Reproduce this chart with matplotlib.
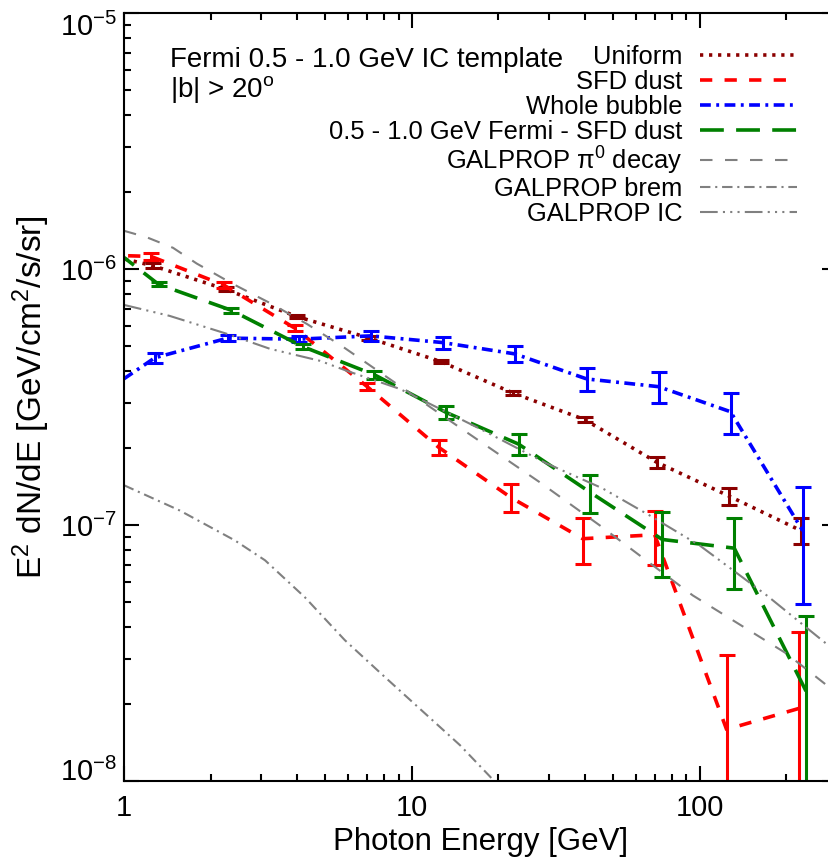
import matplotlib

matplotlib.use("Agg")
import matplotlib.pyplot as plt
from matplotlib.ticker import NullFormatter

plt.rcParams["font.family"] = ["Liberation Sans", "DejaVu Sans"]
plt.rcParams["mathtext.fontset"] = "custom"
plt.rcParams["mathtext.rm"] = "Liberation Sans"
plt.rcParams["mathtext.it"] = "Liberation Sans:italic"
plt.rcParams["mathtext.bf"] = "Liberation Sans:bold"

# energy bin centres [GeV]; the first bin sits left of the plotted range
energy = [0.72, 1.28, 2.29, 4.05, 7.2, 12.8, 22.8, 40.5, 72.0, 128.0, 228.0]

uniform = [1.20e-6, 1.03e-6, 8.33e-7, 6.52e-7, 5.38e-7, 4.35e-7, 3.28e-7, 2.58e-7, 1.76e-7, 1.30e-7, 9.52e-8]
uniform_err = [0, 2.5e-8, 1.5e-8, 1.0e-8, 1.0e-8, 0.7e-8, 0.6e-8, 0.6e-8, 0.9e-8, 1.0e-8, 1.1e-8]

sfd = [1.14e-6, 1.12e-6, 8.66e-7, 5.87e-7, 3.48e-7, 2.01e-7, 1.28e-7, 8.84e-8, 9.16e-8, 1.59e-8, 1.92e-8]
sfd_err = [0, 3.5e-8, 2.6e-8, 1.6e-8, 1.2e-8, 1.4e-8, 1.6e-8, 1.8e-8, 2.2e-8, 1.51e-8, 1.90e-8]

bubble = [2.90e-7, 4.50e-7, 5.37e-7, 5.32e-7, 5.48e-7, 5.16e-7, 4.66e-7, 3.72e-7, 3.47e-7, 2.77e-7, 0.95e-7]
bubble_err = [0, 2.1e-8, 1.6e-8, 1.4e-8, 2.5e-8, 2.8e-8, 3.4e-8, 3.9e-8, 4.8e-8, 5.1e-8, 4.6e-8]

fermi_sfd = [1.44e-6, 8.71e-7, 6.90e-7, 4.98e-7, 3.86e-7, 2.75e-7, 2.07e-7, 1.34e-7, 8.78e-8, 8.12e-8, 2.23e-8]
fermi_sfd_err = [0, 1.5e-8, 1.5e-8, 1.3e-8, 1.4e-8, 1.6e-8, 1.9e-8, 2.3e-8, 2.5e-8, 2.5e-8, 2.2e-8]

# GALPROP model curves
pi0_energy = [1.0, 1.20, 1.48, 1.79, 2.39, 3.21, 4.32, 5.76, 7.03, 14.7, 27.8, 45.0, 94.6, 200.0, 300.0]
pi0 = [1.41e-6, 1.33e-6, 1.21e-6, 1.05e-6, 8.74e-7, 7.37e-7, 6.10e-7, 4.97e-7, 4.26e-7,
       2.40e-7, 1.47e-7, 9.96e-8, 5.31e-8, 3.15e-8, 2.2e-8]

ic_energy = [1.0, 1.44, 2.28, 3.21, 4.79, 5.95, 9.09, 17.2, 29.4, 46.0, 67.0, 100.0, 171.0, 300.0]
ic = [7.24e-7, 6.56e-7, 5.58e-7, 4.88e-7, 4.38e-7, 4.00e-7, 3.40e-7, 2.38e-7, 1.74e-7,
      1.39e-7, 1.09e-7, 8.32e-8, 5.31e-8, 3.18e-8]

brem_energy = [1.0, 1.56, 2.43, 3.09, 4.25, 5.85, 7.93, 10.8, 14.7, 18.7, 23.7]
brem = [1.43e-7, 1.14e-7, 8.70e-8, 7.28e-8, 5.22e-8, 3.55e-8, 2.59e-8, 1.89e-8, 1.38e-8, 1.04e-8, 7.7e-9]

fig = plt.figure(figsize=(8.29, 8.64), dpi=100)
ax = fig.add_axes([124 / 829, 83 / 864, 713 / 829, 768 / 864])
ax.set_xscale("log")
ax.set_yscale("log")

series = [
    ("Uniform", uniform, uniform_err, "#8b0000", (0, (0.9, 1.6)), 0.984),
    ("SFD dust", sfd, sfd_err, "#ff0000", (0, (3.4, 3.4)), 0.969),
    ("Whole bubble", bubble, bubble_err, "#0000ff", (0, (3.0, 1.5, 0.8, 1.5)), 1.0),
    ("0.5 - 1.0 GeV Fermi - SFD dust", fermi_sfd, fermi_sfd_err, "#008000", (0, (6.6, 3.4)), 1.03),
]
handles = []
for label, vals, errs, color, ls, shift in series:
    xs = [e * shift for e in energy]
    (line,) = ax.plot(xs, vals, color=color, linestyle=ls, lw=2.6, label=label)
    ax.errorbar(xs[1:], vals[1:], yerr=errs[1:], fmt="none", ecolor=color,
                elinewidth=2.2, capsize=5.5, capthick=2.2)
    handles.append(line)

gray = "#808080"
(h_pi0,) = ax.plot(pi0_energy, pi0, color=gray, lw=1.5, linestyle=(0, (6, 6)),
                   label=r"GALPROP $\mathregular{\pi^0}$ decay")
(h_brem,) = ax.plot(brem_energy, brem, color=gray, lw=1.5, linestyle=(0, (5, 2.3, 1, 2.3)),
                    label="GALPROP brem")
(h_ic,) = ax.plot(ic_energy, ic, color=gray, lw=1.5,
                  linestyle=(0, (8.5, 2.5, 1, 2.5, 1, 2.5, 1, 2.5)), label="GALPROP IC")
handles += [h_pi0, h_brem, h_ic]

ax.set_xlim(1, 300)
ax.set_ylim(1e-8, 1e-5)

ax.set_xticks([1, 10, 100], labels=["1", "10", "100"])
ax.set_yticks([1e-8, 1e-7, 1e-6, 1e-5],
              labels=[r"$\mathregular{10^{-8}}$", r"$\mathregular{10^{-7}}$",
                      r"$\mathregular{10^{-6}}$", r"$\mathregular{10^{-5}}$"])
ax.xaxis.set_minor_formatter(NullFormatter())
ax.yaxis.set_minor_formatter(NullFormatter())

ax.tick_params(which="both", direction="in", top=True, right=True, width=1.5)
ax.tick_params(which="major", length=10.5)
ax.tick_params(which="minor", length=5.2)
ax.tick_params(axis="x", which="major", pad=9, labelsize=21)
ax.tick_params(axis="y", which="major", pad=5, labelsize=21)
for s in ax.spines.values():
    s.set_linewidth(1.5)

yt = ax.yaxis.get_major_ticks()
yt[0].label1.set_va("baseline")
yt[-1].label1.set_va("top")

ax.set_xlabel("Photon Energy [GeV]", fontsize=22.5, labelpad=4)
ax.set_ylabel(r"E$^\mathregular{2}$ dN/dE [GeV/cm$^\mathregular{2}$/s/sr]", fontsize=24, labelpad=6)

ax.text(0.065, 0.9297, "Fermi 0.5 - 1.0 GeV IC template", transform=ax.transAxes,
        fontsize=20, va="baseline", ha="left")
ax.text(0.065, 0.8906, r"|b| > 20$^\mathregular{o}$", transform=ax.transAxes,
        fontsize=20, va="baseline", ha="left")

ax.legend(handles=handles, loc="upper right", bbox_to_anchor=(0.944, 0.958),
          frameon=False, markerfirst=False, fontsize=18.4, handlelength=3.8,
          handletextpad=0.7, labelspacing=0.03, borderpad=0, borderaxespad=0)

fig.savefig("out.png", dpi=100)
